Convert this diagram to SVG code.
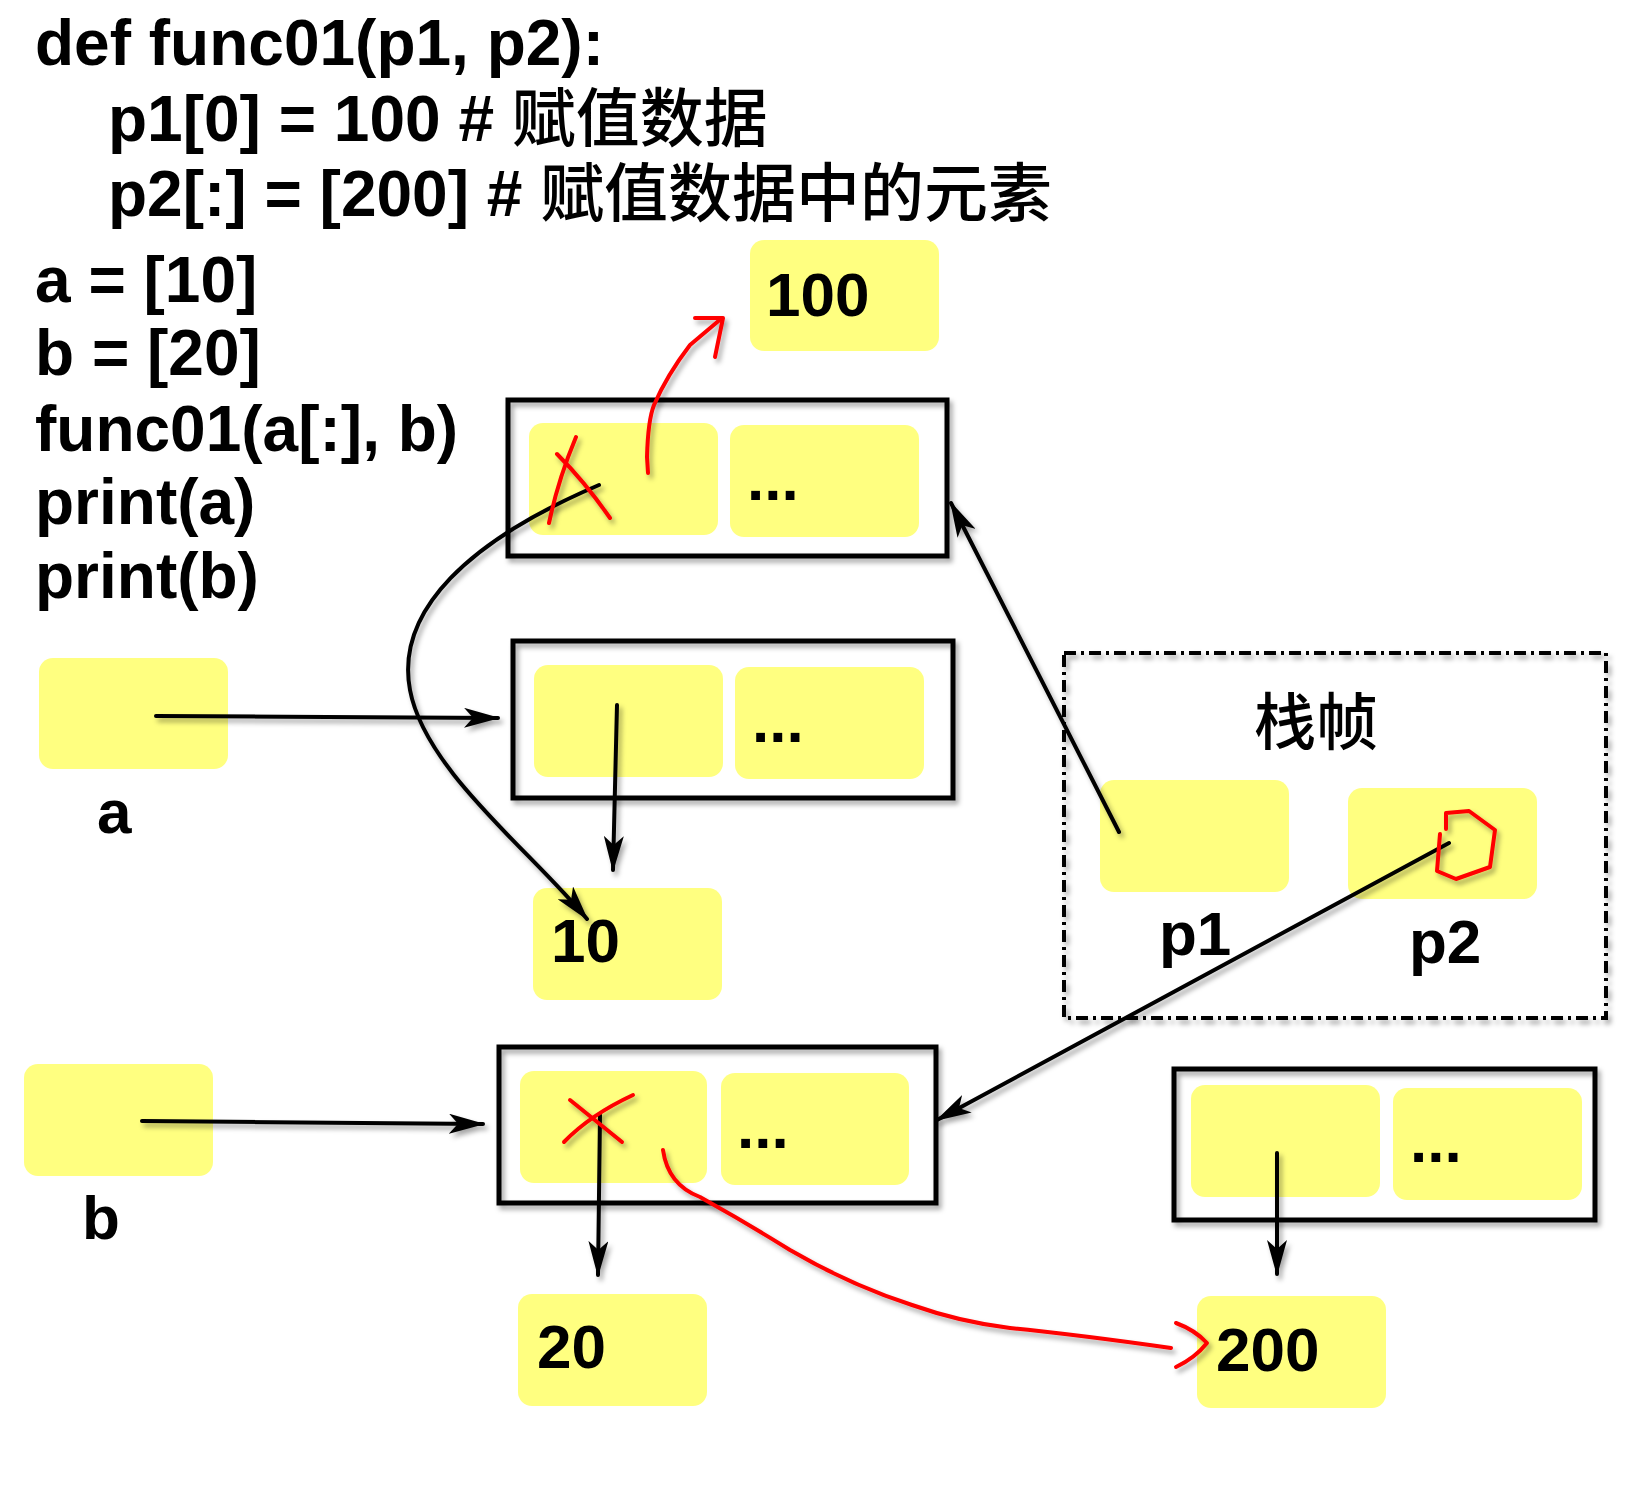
<svg xmlns="http://www.w3.org/2000/svg" width="1649" height="1496" viewBox="0 0 1649 1496">
<defs>
<style>
.t{font-family:"Liberation Sans",Arial,"Noto Sans CJK SC",sans-serif;font-weight:bold;font-size:62px;fill:#000}
.code{font-size:64px}
.cjk{font-family:"Noto Sans CJK SC","Noto Sans CJK TC",sans-serif;font-weight:500}
.cell{fill:#FFFF80}
.frame{fill:none;stroke:#000;stroke-width:5}
.dash{fill:none;stroke:#000;stroke-width:4;stroke-dasharray:12 5 3 5}
.conn{fill:none;stroke:#000;stroke-width:4;stroke-linecap:round}
.red{fill:none;stroke:#FF0000;stroke-width:4;stroke-linecap:round;stroke-linejoin:round}
</style>
<filter id="sh" x="-10%" y="-10%" width="130%" height="130%">
<feDropShadow dx="3" dy="4" stdDeviation="2.5" flood-color="#000" flood-opacity="0.35"/>
</filter>
<marker id="ah" viewBox="0 0 36 20" refX="34" refY="10" markerWidth="36" markerHeight="20" markerUnits="userSpaceOnUse" orient="auto">
<path d="M0,0 L36,10 L0,20 L9,10 z" fill="#000"/>
</marker>
</defs>
<rect width="1649" height="1496" fill="#fff"/>

<g id="code">
<text class="t code" x="35" y="65">def func01(p1, p2):</text>
<text class="t code" x="108" y="141">p1[0] = 100 # <tspan class="cjk">赋值数据</tspan></text>
<text class="t code" x="108" y="216">p2[:] = [200] # <tspan class="cjk">赋值数据中的元素</tspan></text>
<text class="t code" x="35" y="302">a = [10]</text>
<text class="t code" x="35" y="375">b = [20]</text>
<text class="t code" x="35" y="451">func01(a[:], b)</text>
<text class="t code" x="35" y="524">print(a)</text>
<text class="t code" x="35" y="598">print(b)</text>
</g>

<g id="node-100">
<rect class="cell" x="750" y="240" width="189" height="111" rx="14"/>
<text class="t" x="766" y="316">100</text>
</g>

<g id="node-copy-list">
<rect class="frame" x="508" y="400" width="439" height="156" filter="url(#sh)"/>
<rect class="cell" x="529" y="423" width="189" height="112" rx="14"/>
<rect class="cell" x="730" y="425" width="189" height="112" rx="14"/>
<text class="t" x="747" y="500">...</text>
</g>

<g id="node-a-list">
<rect class="frame" x="513" y="641" width="440" height="157" filter="url(#sh)"/>
<rect class="cell" x="534" y="665" width="189" height="112" rx="14"/>
<rect class="cell" x="735" y="667" width="189" height="112" rx="14"/>
<text class="t" x="752" y="742">...</text>
</g>

<g id="node-a">
<rect class="cell" x="39" y="658" width="189" height="111" rx="14"/>
<text class="t" x="97" y="833">a</text>
</g>

<g id="node-10">
<rect class="cell" x="533" y="888" width="189" height="112" rx="14"/>
<text class="t" x="551" y="962">10</text>
</g>

<g id="node-frame">
<rect class="dash" x="1064" y="653" width="542" height="365" filter="url(#sh)"/>
<text class="t cjk" x="1254" y="745">栈帧</text>
</g>

<g id="node-p1">
<rect class="cell" x="1100" y="780" width="189" height="112" rx="14"/>
<text class="t" x="1159" y="955">p1</text>
</g>

<g id="node-p2">
<rect class="cell" x="1348" y="788" width="189" height="111" rx="14"/>
<text class="t" x="1409" y="963">p2</text>
</g>

<g id="node-b">
<rect class="cell" x="24" y="1064" width="189" height="112" rx="14"/>
<text class="t" x="82" y="1239">b</text>
</g>

<g id="node-b-list">
<rect class="frame" x="499" y="1047" width="437" height="156" filter="url(#sh)"/>
<rect class="cell" x="520" y="1071" width="187" height="112" rx="14"/>
<rect class="cell" x="721" y="1073" width="188" height="112" rx="14"/>
<text class="t" x="737" y="1148">...</text>
</g>

<g id="node-20">
<rect class="cell" x="518" y="1294" width="189" height="112" rx="14"/>
<text class="t" x="537" y="1368">20</text>
</g>

<g id="node-200-list">
<rect class="frame" x="1174" y="1069" width="421" height="151" filter="url(#sh)"/>
<rect class="cell" x="1191" y="1085" width="189" height="112" rx="14"/>
<rect class="cell" x="1393" y="1088" width="189" height="112" rx="14"/>
<text class="t" x="1410" y="1162">...</text>
</g>

<g id="node-200">
<rect class="cell" x="1197" y="1296" width="189" height="112" rx="14"/>
<text class="t" x="1216" y="1371">200</text>
</g>

<g id="connectors">
<g filter="url(#sh)">
<path class="conn" d="M156,716 L498,718" marker-end="url(#ah)"/>
<path class="conn" d="M617,705 L613,870" marker-end="url(#ah)"/>
<path class="conn" d="M599,485 C470,540 395,610 410,690 C425,770 530,850 587,919" marker-end="url(#ah)"/>
<path class="conn" d="M1119,832 L951,503" marker-end="url(#ah)"/>
<path class="conn" d="M142,1121 L483,1124" marker-end="url(#ah)"/>
<path class="conn" d="M600,1115 L598,1275" marker-end="url(#ah)"/>
<path class="conn" d="M1449,843 L937,1120" marker-end="url(#ah)"/>
<path class="conn" d="M1277,1153 L1277,1274" marker-end="url(#ah)"/>
</g>
<g filter="url(#sh)">
<path class="red" d="M648,473 L647,457 Q648,420 654,405 Q667,375 690,345 L722,318"/>
<path class="red" d="M695,318 L723,318 L715,357"/>
<path class="red" d="M576,437 Q558,480 549,523"/>
<path class="red" d="M557,454 Q585,482 610,518"/>
<path class="red" d="M570,1100 L622,1142"/>
<path class="red" d="M633,1095 Q590,1115 564,1142"/>
<path class="red" d="M1446,829 L1446,813 L1469,811 L1495,830 L1490,867 L1456,879 L1437,871 L1440,834"/>
<path class="red" d="M663,1150 Q668,1185 700,1197 Q745,1222 790,1250 Q850,1285 912,1305 Q960,1322 1010,1328 Q1080,1335 1171,1348"/>
<path class="red" d="M1176,1323 Q1195,1330 1207,1343 Q1195,1358 1176,1367"/>
</g>
</g>
</svg>
